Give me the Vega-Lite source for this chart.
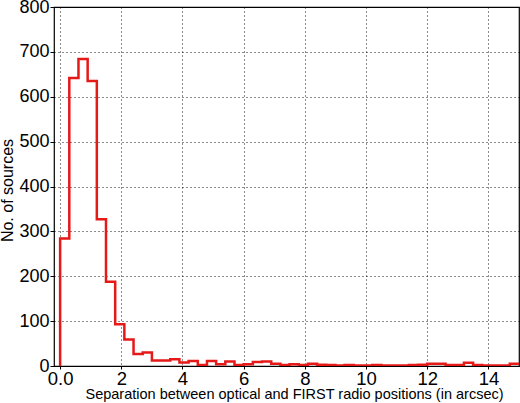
{
  "$schema": "https://vega.github.io/schema/vega-lite/v6.json",
  "width": 465,
  "height": 359,
  "autosize": "none",
  "padding": {"left": 54, "top": 7, "right": 1, "bottom": 37},
  "config": {
    "view": {"stroke": "black", "strokeWidth": 1.2},
    "font": "Liberation Sans",
    "axis": {
      "domain": false,
      "gridColor": "black",
      "gridDash": [1, 3],
      "gridOpacity": 0.9,
      "tickColor": "black",
      "labelColor": "black",
      "titleColor": "black",
      "titleFontWeight": "normal",
      "labelFont": "Liberation Sans",
      "titleFont": "Liberation Sans"
    }
  },
  "data": {
    "values": [
      {"x": 0.0, "n": 0, "o": 0},
      {"x": 0.0, "n": 284, "o": 1},
      {"x": 0.3, "n": 642, "o": 2},
      {"x": 0.6, "n": 684, "o": 3},
      {"x": 0.9, "n": 635, "o": 4},
      {"x": 1.2, "n": 327, "o": 5},
      {"x": 1.5, "n": 188, "o": 6},
      {"x": 1.8, "n": 93, "o": 7},
      {"x": 2.1, "n": 59, "o": 8},
      {"x": 2.4, "n": 27, "o": 9},
      {"x": 2.7, "n": 30, "o": 10},
      {"x": 3.0, "n": 12, "o": 11},
      {"x": 3.3, "n": 12, "o": 12},
      {"x": 3.6, "n": 15, "o": 13},
      {"x": 3.9, "n": 8, "o": 14},
      {"x": 4.2, "n": 11, "o": 15},
      {"x": 4.5, "n": 2, "o": 16},
      {"x": 4.8, "n": 11, "o": 17},
      {"x": 5.1, "n": 4, "o": 18},
      {"x": 5.4, "n": 10, "o": 19},
      {"x": 5.7, "n": 2, "o": 20},
      {"x": 6.0, "n": 4, "o": 21},
      {"x": 6.3, "n": 9, "o": 22},
      {"x": 6.6, "n": 10, "o": 23},
      {"x": 6.9, "n": 5, "o": 24},
      {"x": 7.2, "n": 2, "o": 25},
      {"x": 7.5, "n": 4, "o": 26},
      {"x": 7.8, "n": 2, "o": 27},
      {"x": 8.1, "n": 5, "o": 28},
      {"x": 8.4, "n": 3, "o": 29},
      {"x": 8.7, "n": 2, "o": 30},
      {"x": 9.0, "n": 1, "o": 31},
      {"x": 9.3, "n": 2, "o": 32},
      {"x": 9.6, "n": 1, "o": 33},
      {"x": 9.9, "n": 1, "o": 34},
      {"x": 10.2, "n": 2, "o": 35},
      {"x": 10.5, "n": 1, "o": 36},
      {"x": 10.8, "n": 1, "o": 37},
      {"x": 11.1, "n": 1, "o": 38},
      {"x": 11.4, "n": 2, "o": 39},
      {"x": 11.7, "n": 3, "o": 40},
      {"x": 12.0, "n": 5, "o": 41},
      {"x": 12.3, "n": 5, "o": 42},
      {"x": 12.6, "n": 2, "o": 43},
      {"x": 12.9, "n": 2, "o": 44},
      {"x": 13.2, "n": 7, "o": 45},
      {"x": 13.5, "n": 2, "o": 46},
      {"x": 13.8, "n": 1, "o": 47},
      {"x": 14.1, "n": 1, "o": 48},
      {"x": 14.4, "n": 1, "o": 49},
      {"x": 14.7, "n": 5, "o": 50},
      {"x": 15.0, "n": 5, "o": 51}
    ]
  },
  "mark": {
    "type": "line",
    "interpolate": "step-after",
    "color": "#e61919",
    "strokeWidth": 2.5,
    "clip": true
  },
  "encoding": {
    "x": {
      "field": "x",
      "type": "quantitative",
      "scale": {"domain": [-0.2, 15], "nice": false, "zero": false},
      "axis": {
        "values": [0, 2, 4, 6, 8, 10, 12, 14],
        "labelExpr": "datum.value == 0 ? '0.0' : datum.label",
        "labelFontSize": 18.5,
        "tickSize": 3,
        "labelPadding": 0,
        "title": "Separation between optical and FIRST radio positions (in arcsec)",
        "titleFontSize": 14.5,
        "titleX": 240,
        "titleAlign": "center",
        "titlePadding": 0
      }
    },
    "y": {
      "field": "n",
      "type": "quantitative",
      "scale": {"domain": [0, 800], "nice": false},
      "axis": {
        "values": [0, 100, 200, 300, 400, 500, 600, 700, 800],
        "labelFontSize": 18,
        "tickSize": 4,
        "labelPadding": 1,
        "title": "No. of sources",
        "titleFontSize": 16,
        "titleY": 183,
        "titleAlign": "center",
        "titlePadding": 3
      }
    },
    "order": {"field": "o", "type": "quantitative"}
  }
}
